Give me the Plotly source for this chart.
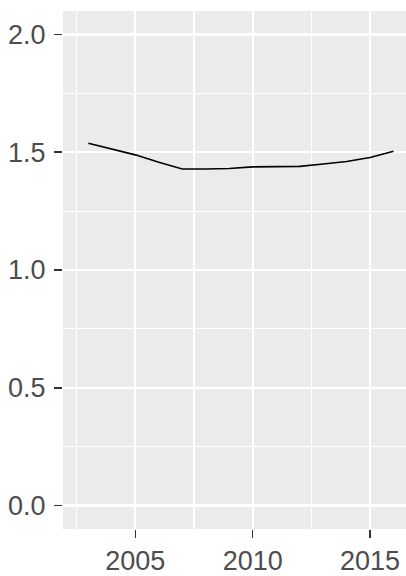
import plotly.graph_objects as go

years = [2003, 2004, 2005, 2006, 2007, 2008, 2009, 2010, 2011, 2012, 2013, 2014, 2015, 2016]
values = [1.538, 1.514, 1.489, 1.458, 1.429, 1.429, 1.431, 1.438, 1.439, 1.440, 1.450, 1.461, 1.478, 1.504]

x_ticks = [2005, 2010, 2015]
y_ticks = [0.0, 0.5, 1.0, 1.5, 2.0]
y_tick_labels = ["0.0", "0.5", "1.0", "1.5", "2.0"]

fig = go.Figure()
fig.add_trace(go.Scatter(x=years, y=values, mode="lines",
                         line=dict(color="black", width=1.6), hoverinfo="skip"))

font = dict(family="Liberation Sans, Arial, sans-serif", size=27, color="#4D4D4D")

fig.update_layout(
    width=406, height=576,
    margin=dict(l=63, r=0, t=11, b=47, autoexpand=False),
    paper_bgcolor="white", plot_bgcolor="#EBEBEB",
    showlegend=False,
    font=font,
)
fig.update_xaxes(
    range=[2001.92, 2016.53], tickvals=x_ticks, ticktext=[str(v) for v in x_ticks],
    showgrid=True, gridcolor="white", gridwidth=2.2,
    minor=dict(tickvals=[2002.5, 2007.5, 2012.5], showgrid=True, gridcolor="white", gridwidth=1.2, ticks=""),
    ticks="outside", ticklen=8, tickwidth=1.6, tickcolor="#333333",
    zeroline=False, showline=False, tickfont=font, automargin=False,
)
fig.update_yaxes(
    range=[-0.1, 2.1], tickvals=y_ticks, ticktext=y_tick_labels,
    showgrid=True, gridcolor="white", gridwidth=2.2,
    minor=dict(tickvals=[0.25, 0.75, 1.25, 1.75], showgrid=True, gridcolor="white", gridwidth=1.2, ticks=""),
    ticks="outside", ticklen=8, tickwidth=1.6, tickcolor="#333333",
    zeroline=False, showline=False, tickfont=font, automargin=False,
    ticklabelstandoff=3,
)

fig.write_html(
    "out.html",
    config={"displayModeBar": False, "staticPlot": True},
    post_script="document.body.style.margin='0';document.body.style.overflow='hidden';",
)
